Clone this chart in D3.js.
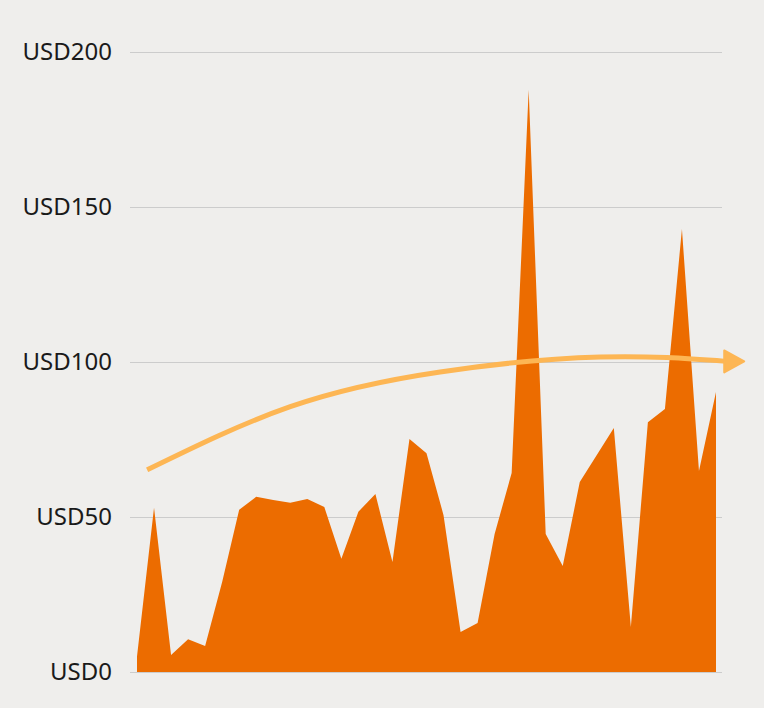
<!DOCTYPE html>
<html>
<head>
<meta charset="utf-8">
<script src="https://cdn.jsdelivr.net/npm/d3@7"></script>
<style>
  html, body { margin: 0; padding: 0; background: #efeeec; }
  svg { display: block; }
  .tick text { font-family: "Noto Sans", sans-serif; font-size: 24px; fill: #1a1a1a; }
</style>
</head>
<body>
<div id="vis"></div>
<script>
//Canvas dimensions
var width = 764, height = 708;

//Monthly values, one per period
var prices = [5, 53, 5.5, 10.6, 8.4, 29, 52.3, 56.5, 55.5, 54.6, 55.8, 53.2, 36.5, 51.7, 57.4,
              35.5, 75.2, 70.6, 50.6, 12.9, 15.8, 44.5, 64.2, 187.8, 44.5, 34.2, 61.3, 70, 78.7,
              14.5, 80.6, 84.8, 142.9, 64.8, 90.3];

//Trend arrow, position (in periods) and value
var trendPos = [0.6, 9, 17.8, 27.2, 34.6];
var trendVal = [65.2, 85.6, 96.8, 101.6, 100.2];

//Tick values of the y axis
var yTicks = [0, 50, 100, 150, 200];

var svgCanvas = d3.select("#vis")
                  .append("svg")
                  .attr("width", width)
                  .attr("height", height);

//Scales
var xScale = d3.scaleLinear().domain([0, prices.length - 1]).range([137, 716]);
var yScale = d3.scaleLinear().domain([0, 200]).range([672, 52]);

//Gridlines and labels
var yAxis = d3.axisLeft(yScale)
              .tickValues(yTicks)
              .tickSize(-592)
              .tickPadding(18)
              .tickFormat(function(d) { return "USD" + d; });

var axisG = svgCanvas.append("g")
                     .attr("transform", "translate(130,0)")
                     .call(yAxis);
axisG.select(".domain").remove();
axisG.selectAll(".tick line").attr("stroke", "#cccccc").attr("stroke-width", 1);
axisG.selectAll(".tick text").attr("x", -18);

//Area
var area = d3.area()
             .x(function(d, i) { return xScale(i); })
             .y0(yScale(0))
             .y1(function(d) { return yScale(d); });

svgCanvas.append("path")
         .datum(prices)
         .attr("d", area)
         .attr("fill", "#ec6c00");

//Trend line with arrow head
var trendColor = "#fdb654";
var trendData = trendPos.map(function(p, i) { return [xScale(p), yScale(trendVal[i])]; });

svgCanvas.append("path")
         .datum(trendData)
         .attr("d", d3.line().curve(d3.curveNatural))
         .attr("fill", "none")
         .attr("stroke", trendColor)
         .attr("stroke-width", 5);

var last = trendData[trendData.length - 1];
svgCanvas.append("path")
         .attr("d", "M" + (last[0] - 2) + "," + (last[1] - 11) +
                    "L" + (last[0] + 18) + "," + last[1] +
                    "L" + (last[0] - 2) + "," + (last[1] + 11) + "Z")
         .attr("fill", trendColor)
         .attr("stroke", trendColor)
         .attr("stroke-width", 2)
         .attr("stroke-linejoin", "round");
</script>
</body>
</html>
